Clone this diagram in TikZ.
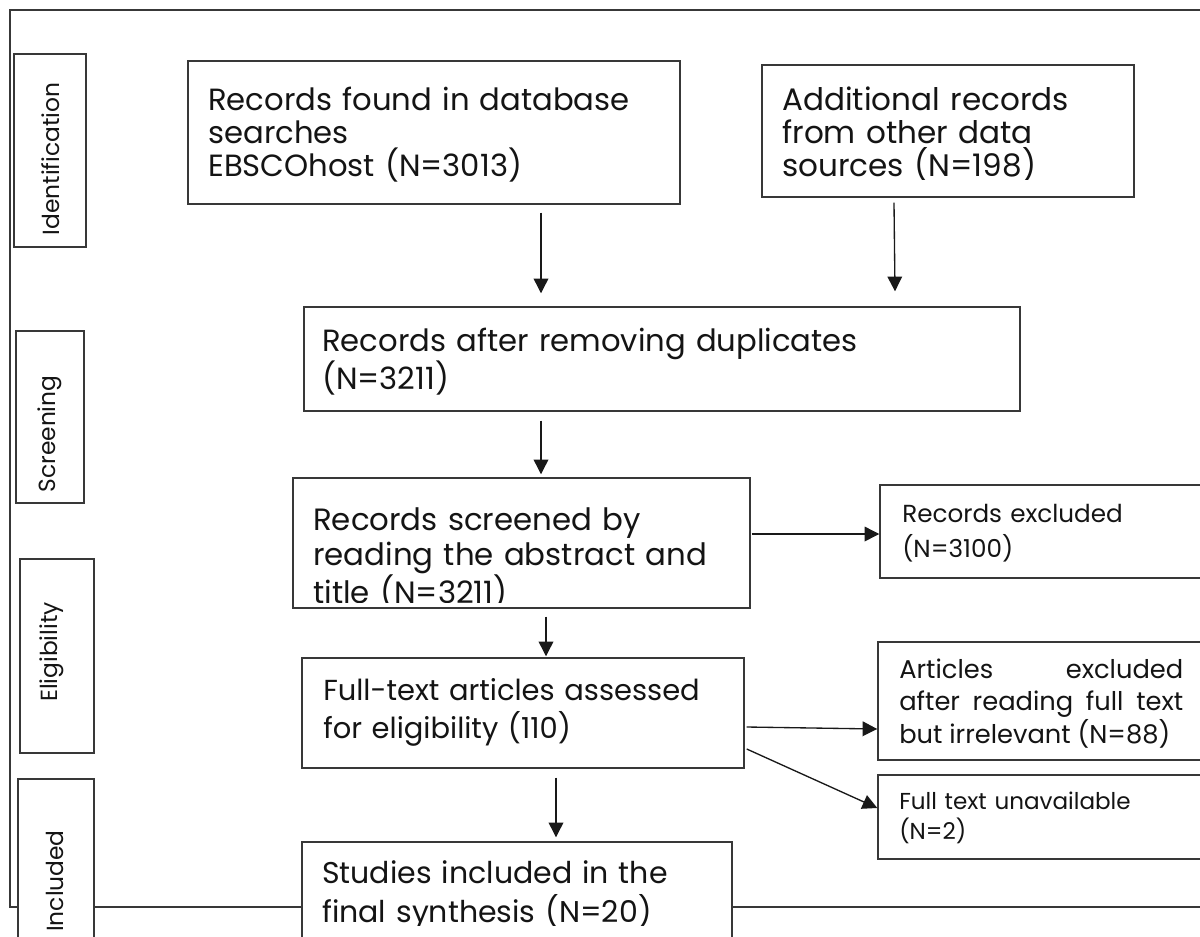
\documentclass[tikz,border=0pt]{standalone}
\usepackage{fontspec}
\setmainfont{Poppins}
\usetikzlibrary{arrows.meta,calc,fit}
\setlength{\lineskiplimit}{-50pt}
\begin{document}
\begin{tikzpicture}[x=0.75pt,y=-0.75pt,
  ln/.style={line width=1.1pt, draw=black!78},
  boxst/.style={ln, fill=white, inner sep=0pt},
  arr/.style={line width=1pt, draw=black!90, -{Triangle[length=11pt,width=11pt]}},
  txt/.style={inner sep=0pt, anchor=base west, align=left, text width=560pt, text=black!92},
  midtxt/.style={inner sep=0pt, anchor=base west, align=justify, text width=213pt, text=black!92, font=\fontsize{19.3}{24.4}\selectfont},
  side/.style={inner sep=0pt, anchor=mid, rotate=90, text=black!92, font=\fontsize{17.5}{20}\selectfont}
]
\useasboundingbox (0,0) rectangle (1200,936);
\fill[white] (0,0) rectangle (1200,936);

% outer frame
\draw[ln] (1200,10) -- (10,10) -- (10,907) -- (1200,907);

% stage label boxes
\node[boxst, fit={(14,54) (86,247)}] (idb) {};
\node[side] (idl) at (56,159) {Identification};
\node[boxst, fit={(16,331) (84,503)}] (scb) {};
\node[side] (scl) at (52,434) {Screening};
\node[boxst, fit={(20,559) (94,753)}] (elb) {};
\node[side] (ell) at (54,652) {Eligibility};
\node[boxst, fit={(18,779) (94,950)}] (inb) {};
\node[side] (inl) at (60,881) {Included};

% main boxes
\node[boxst, fit={(188,61) (680,204)}] (b1) {};
\node[txt, font=\fontsize{23}{24.75}\selectfont] (t1) at (208,110) {Records found in database\\searches\\EBSCOhost (N=3013)};

\node[boxst, fit={(762,65) (1134,197)}] (b2) {};
\begin{scope}
\clip (762,65) rectangle (1134,179);
\node[txt, font=\fontsize{23.3}{24.75}\selectfont] (t2) at (782,110) {Additional records\\from other data\\sources (N=198)};
\end{scope}

\node[boxst, fit={(304,307) (1020,411)}] (b3) {};
\node[txt, font=\fontsize{23}{24.75}\selectfont] (t3) at (322,351) {Records after removing duplicates\\(N=3211)};

\node[boxst, fit={(293,478) (750,608)}] (b4) {};
\begin{scope}
\clip (293,478) rectangle (750,602);
\node[txt, font=\fontsize{23.1}{26.25}\selectfont] (t4) at (313,530) {Records screened by\\reading the abstract and\\title (N=3211)};
\end{scope}

\node[boxst, fit={(880,485) (1210,578)}] (rx) {};
\node[txt, font=\fontsize{18.5}{26.25}\selectfont] (trx) at (902,522) {Records excluded\\(N=3100)};

\node[boxst, fit={(302,658) (744,768)}] (b5) {};
\node[txt, font=\fontsize{21.7}{28.5}\selectfont] (t5) at (323,700) {Full-text articles assessed\\for eligibility (110)};

\node[boxst, fit={(878,642) (1210,760)}] (art) {};
\node[midtxt] (tart) at (899,678) {Articles excluded\linebreak after reading full text\linebreak but irrelevant (N=88)};

\node[boxst, fit={(878,775) (1210,859)}] (ftu) {};
\node[txt, font=\fontsize{17.3}{22.5}\selectfont] (tftu) at (899,809) {Full text unavailable\\(N=2)};

\node[boxst, fit={(302,842) (732,950)}] (b6) {};
\begin{scope}
\clip (302,842) rectangle (732,925);
\node[txt, font=\fontsize{22.5}{29.25}\selectfont] (t6) at (322,883) {Studies included in the\\final synthesis (N=20)};
\end{scope}

% connectors
\draw[arr] ($(b1.south)+(107,8)$) -- ($(b1.south |- b3.north)+(107,-13)$);
\draw[arr] ($(b2.south)+(-54,5)$) -- ($(b2.south |- b3.north)+(-53,-15)$);
\draw[arr] ($(b3.south)+(-121,9)$) -- ($(b3.south |- b4.north)+(-121,-3)$);
\draw[arr] ($(b4.east)+(1,-9)$) -- ($(b4.east -| rx.west)+(0,-9)$);
\draw[arr] ($(b4.south)+(24.5,8)$) -- ($(b4.south |- b5.north)+(24.5,-1)$);
\draw[arr] ($(b5.south)+(33,9)$) -- ($(b5.south |- b6.north)+(33,-4)$);
\draw[arr] ($(b5.east)+(2,14)$) -- ($(art.west)+(0,28)$);
\draw[arr] ($(b5.east)+(2,36)$) -- ($(ftu.west)+(0,-9)$);
\end{tikzpicture}
\end{document}
